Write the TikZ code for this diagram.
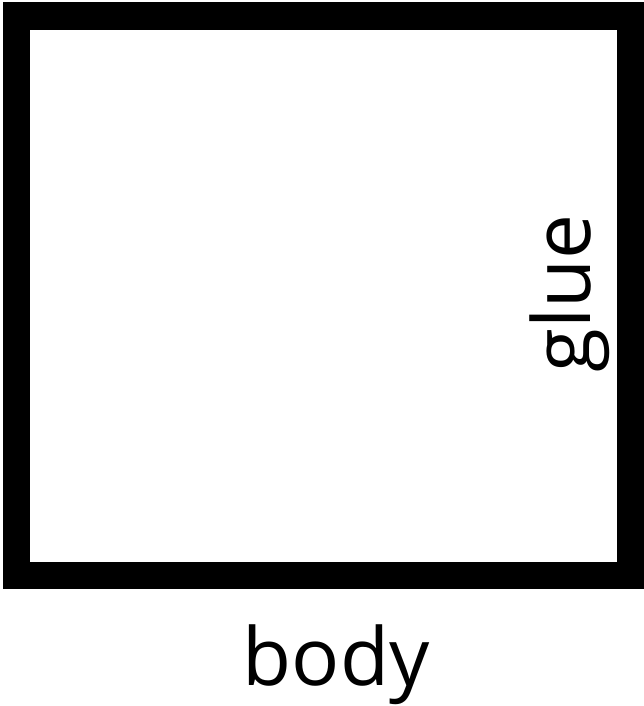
\documentclass[tikz,border=0pt]{standalone}
\usepackage{fontspec}
\setmainfont{Open Sans}
\begin{document}
\begin{tikzpicture}[x=1pt,y=-1pt,
  frame/.style={draw=black,line width=27.5pt},
  lbl/.style={inner sep=0pt,font=\fontsize{80}{96}\selectfont}]
\useasboundingbox (0,0) rectangle (644,706);
\draw[frame] (16.25,16.25) rectangle (630.25,575.25);
\node[lbl,anchor=base,rotate=90] (glue) at (590,293.5) {glue};
\node[lbl,anchor=base] (body) at (336,685) {body};
\end{tikzpicture}
\end{document}
